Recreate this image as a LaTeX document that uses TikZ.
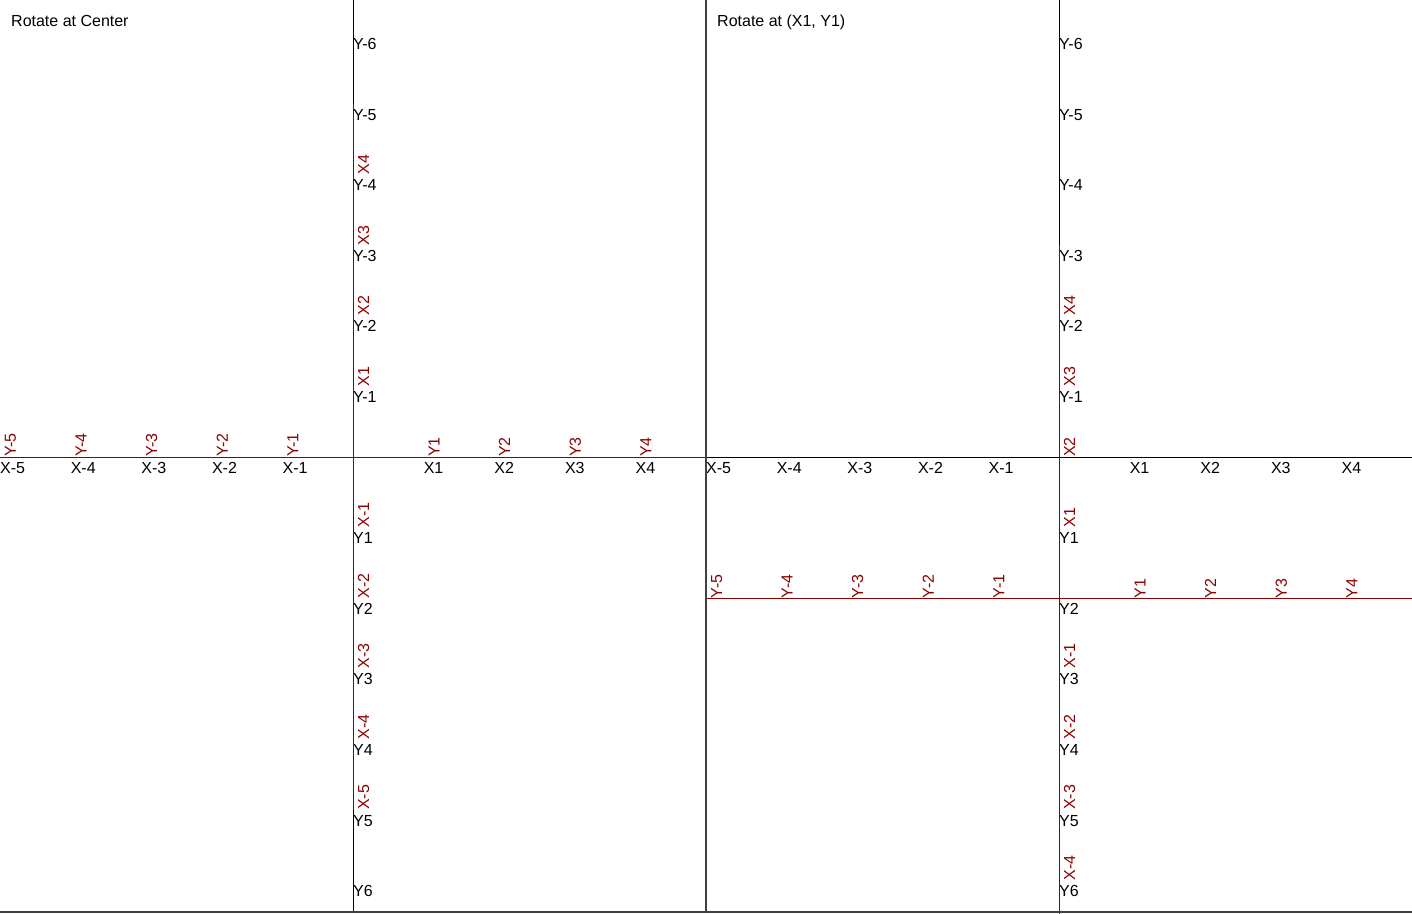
\documentclass[tikz,border=0pt]{standalone}
\usepackage{fontspec}
\setmainfont{Liberation Sans}
\definecolor{axred}{RGB}{139,0,0}
\definecolor{panelframe}{RGB}{64,64,64}
\tikzset{
  lbl/.style={font=\fontsize{16}{19}\selectfont, inner sep=0pt, anchor=base west},
  ttl/.style={font=\fontsize{16}{19}\selectfont, inner sep=0pt, anchor=base west, text=black},
  axline/.style={line width=1pt},
  sep/.style={panelframe, line width=2pt}
}
% #1 = ox, #2 = oy, #3 = colour, #4 = name prefix
\newcommand{\myaxisset}[4]{%
  \draw[axline,#3] (#1-353,#2) -- (#1+353,#2);
  \draw[axline,#3] (#1,#2-457) -- (#1,#2+456);
  \foreach \i in {-5,...,4}{%
    \ifnum\i=0\relax\else
      \node[lbl,text=#3] (#4x\i) at ({#1+\i*70.6},{#2+16}) {X\i};
    \fi}
  \foreach \i in {-6,...,6}{%
    \ifnum\i=0\relax\else
      \node[lbl,text=#3] (#4y\i) at ({#1},{#2+\i*70.6+16}) {Y\i};
    \fi}
}
\begin{document}
\begin{tikzpicture}[x=1pt,y=-1pt]
\useasboundingbox (0,0) rectangle (1412,913);
% left panel
\begin{scope}
  \clip (0,0) rectangle (706,913);
  \myaxisset{353}{457}{black}{la}
  \begin{scope}[rotate around={90:(353,457)}, transform shape]
    \myaxisset{353}{457}{axred}{lr}
  \end{scope}
  \node[ttl] (t1) at (11,26) {Rotate at Center};
\end{scope}
% right panel
\begin{scope}
  \clip (706,0) rectangle (1412,913);
  \myaxisset{1059}{457}{black}{ra}
  \begin{scope}[rotate around={90:(1129.6,527.6)}, transform shape]
    \myaxisset{1059}{457}{axred}{rr}
  \end{scope}
  \node[ttl] (t2) at (717,26) {Rotate at (X1, Y1)};
\end{scope}
\draw[sep] (706,0) -- (706,913);
\draw[sep] (0,912) -- (1412,912);
\end{tikzpicture}
\end{document}
